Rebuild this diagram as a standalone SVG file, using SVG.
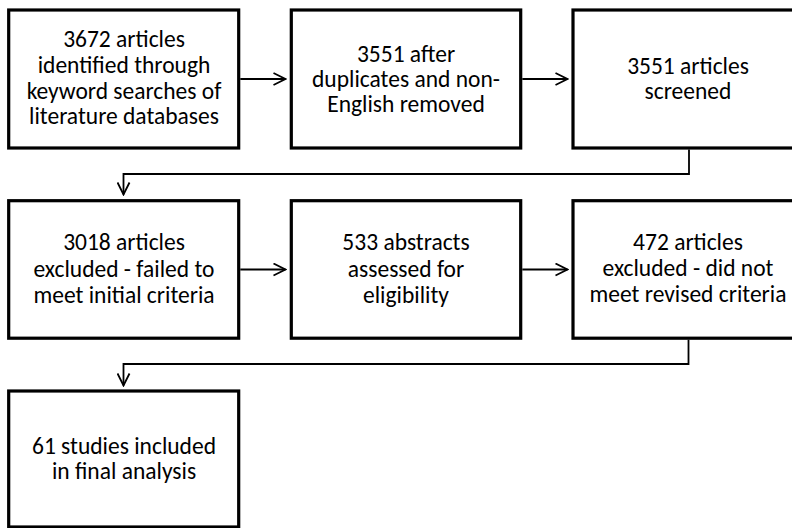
<svg xmlns="http://www.w3.org/2000/svg" width="792" height="528" viewBox="0 0 792 528">
<style>
.box{fill:#fff;stroke:#000;stroke-width:3.2}
.t{font-family:"Carlito","Liberation Sans",Arial,sans-serif;font-size:23.5px;fill:#000;text-anchor:middle}
.c{fill:none;stroke:#000;stroke-width:1.8}
</style>
<defs>
<marker id="ah" viewBox="0 0 14 14" refX="13" refY="7" markerWidth="14" markerHeight="14" markerUnits="userSpaceOnUse" orient="auto">
<path d="M1,1 L13,7 L1,13" fill="none" stroke="#000" stroke-width="1.8"/>
</marker>
</defs>
<rect width="792" height="528" fill="#fff"/>
<g id="n1"><rect class="box" x="8.7" y="10" width="230" height="138"/>
<text class="t"><tspan x="124" y="47">3672 articles</tspan><tspan x="124" y="73">identified through</tspan><tspan x="124" y="98.5">keyword searches of</tspan><tspan x="124" y="124">literature databases</tspan></text></g>
<g id="n2"><rect class="box" x="291.3" y="10" width="229.4" height="138"/>
<text class="t"><tspan x="406" y="61.5">3551 after</tspan><tspan x="406" y="86.5">duplicates and non-</tspan><tspan x="406" y="111.5">English removed</tspan></text></g>
<g id="n3"><rect class="box" x="573" y="10" width="232" height="138"/>
<text class="t"><tspan x="688" y="73.5">3551 articles</tspan><tspan x="688" y="99">screened</tspan></text></g>
<g id="n4"><rect class="box" x="8.7" y="200.7" width="230" height="137.5"/>
<text class="t"><tspan x="124" y="250">3018 articles</tspan><tspan x="124" y="276.5">excluded - failed to</tspan><tspan x="124" y="302.5">meet initial criteria</tspan></text></g>
<g id="n5"><rect class="box" x="291.3" y="200.7" width="229.4" height="137.5"/>
<text class="t"><tspan x="406" y="250">533 abstracts</tspan><tspan x="406" y="276.5">assessed for</tspan><tspan x="406" y="302.5">eligibility</tspan></text></g>
<g id="n6"><rect class="box" x="573" y="200.7" width="232" height="137.5"/>
<text class="t"><tspan x="688" y="250">472 articles</tspan><tspan x="688" y="276">excluded - did not</tspan><tspan x="688" y="301.5">meet revised criteria</tspan></text></g>
<g id="n7"><rect class="box" x="8.7" y="391" width="230" height="136"/>
<text class="t"><tspan x="124" y="454">61 studies included</tspan><tspan x="124" y="478.5">in final analysis</tspan></text></g>
<g id="connectors">
<path class="c" d="M240.3,79 H285.5" marker-end="url(#ah)"/>
<path class="c" d="M522.3,79 H567.5" marker-end="url(#ah)"/>
<path class="c" d="M689,149.6 V174 H123.5 V194.5" marker-end="url(#ah)"/>
<path class="c" d="M240.3,269.5 H285.5" marker-end="url(#ah)"/>
<path class="c" d="M522.3,269.5 H567.5" marker-end="url(#ah)"/>
<path class="c" d="M688.5,339.8 V364 H123.5 V385.5" marker-end="url(#ah)"/>
</g>
</svg>
